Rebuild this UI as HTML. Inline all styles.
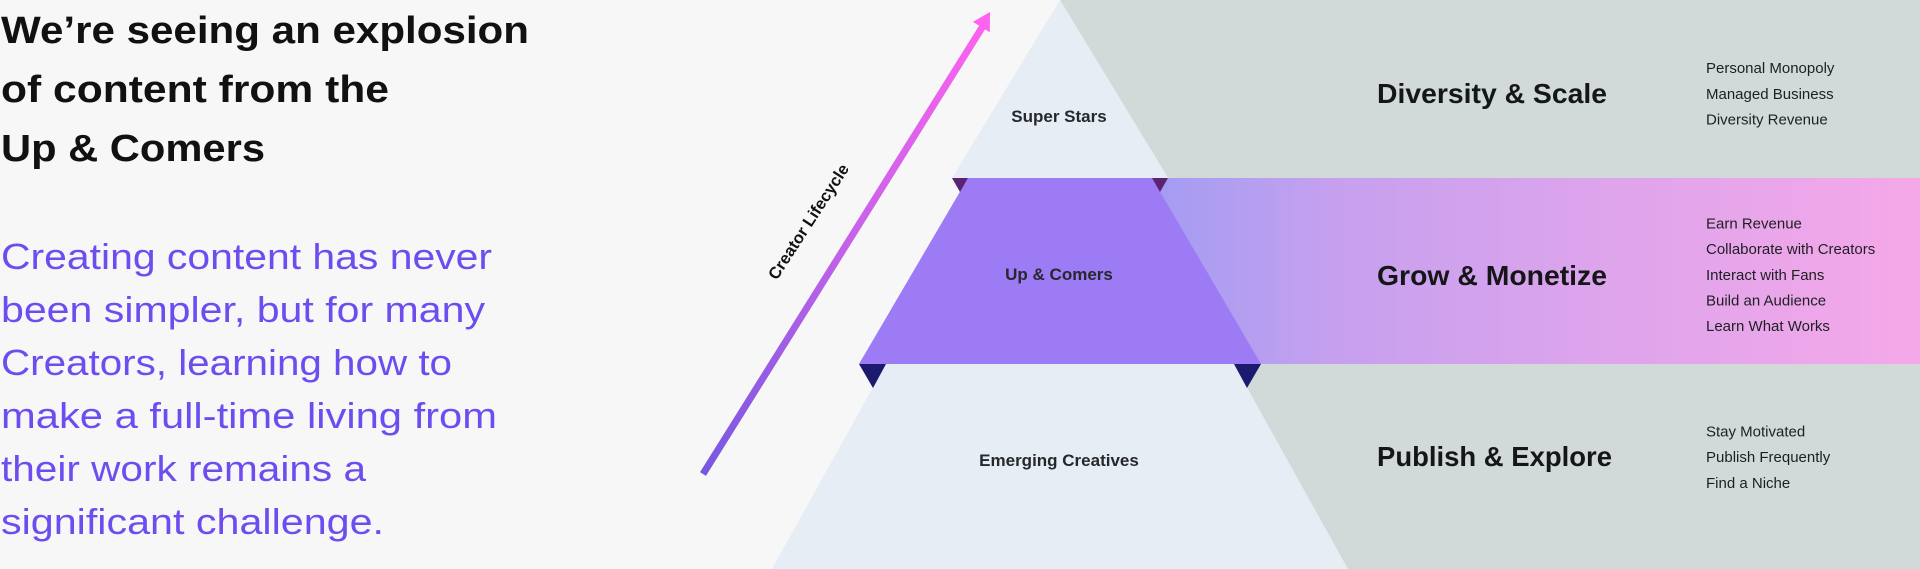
<!DOCTYPE html>
<html>
<head>
<meta charset="utf-8">
<style>
  html, body { margin:0; padding:0; background:#f7f7f7; }
  body { width:1920px; height:569px; overflow:hidden; }
  svg { display:block; }
  .h { font-family:"Liberation Sans", Arial, sans-serif; font-weight:700; fill:#111; }
  .b { font-family:"Liberation Sans", Arial, sans-serif; font-weight:400; fill:#6d4def; }
  .lbl { font-family:"Liberation Sans", Arial, sans-serif; font-weight:700; fill:#26282b; font-size:17px; }
  .rh { font-family:"Liberation Sans", Arial, sans-serif; font-weight:700; fill:#151618; font-size:28px; }
  .li { font-family:"Liberation Sans", Arial, sans-serif; font-weight:400; fill:#1e1f22; font-size:15px; }
</style>
</head>
<body>
<svg width="1920" height="569" viewBox="0 0 1920 569" xmlns="http://www.w3.org/2000/svg">
  <defs>
    <linearGradient id="band" x1="1140" y1="0" x2="1920" y2="0" gradientUnits="userSpaceOnUse">
      <stop offset="0" stop-color="#a09cf2"/>
      <stop offset="0.25" stop-color="#c6a0ef"/>
      <stop offset="0.6" stop-color="#dea4ec"/>
      <stop offset="1" stop-color="#f5a8e8"/>
    </linearGradient>
    <linearGradient id="arr" x1="703" y1="474" x2="990" y2="13" gradientUnits="userSpaceOnUse">
      <stop offset="0" stop-color="#7757e0"/>
      <stop offset="0.5" stop-color="#c462e9"/>
      <stop offset="1" stop-color="#ff62ef"/>
    </linearGradient>
  </defs>

  <rect x="0" y="0" width="1920" height="569" fill="#f7f7f7"/>

  <!-- Top band -->
  <polygon points="1060,0 1920,0 1920,178 1168,178" fill="#d1dad9"/>
  <polygon points="1060,0 952,178 1168,178" fill="#e6edf5"/>

  <!-- Middle band -->
  <rect x="1140" y="178" width="780" height="186" fill="url(#band)"/>
  <polygon points="968,178 1152,178 1261,364 859,364" fill="#9d7bf5"/>
  <polygon points="952,178 968,178 960,192" fill="#5b2373"/>
  <polygon points="1152,178 1168,178 1160,192" fill="#5b2373"/>

  <!-- Bottom band -->
  <rect x="1200" y="364" width="720" height="205" fill="#d1dad9"/>
  <polygon points="886,364 1234,364 1348,569 772,569" fill="#e6edf5"/>
  <polygon points="859,364 886,364 873,388" fill="#1c1a6e"/>
  <polygon points="1234,364 1261,364 1247,388" fill="#1c1a6e"/>

  <!-- Arrow -->
  <line x1="703" y1="474" x2="983" y2="26" stroke="url(#arr)" stroke-width="7"/>
  <polygon points="990,12 972.9,21.9 989.8,32.3" fill="#ff62ee"/>
  <text x="809" y="222" class="h" font-size="16.5" text-anchor="middle" dominant-baseline="central" transform="rotate(-57 809 222)" fill="#111">Creator Lifecycle</text>

  <!-- Pyramid labels -->
  <text x="1059" y="122" class="lbl" text-anchor="middle">Super Stars</text>
  <text x="1059" y="280" class="lbl" text-anchor="middle">Up &amp; Comers</text>
  <text x="1059" y="466" class="lbl" text-anchor="middle">Emerging Creatives</text>

  <!-- Left heading -->
  <text x="1" y="43" class="h" font-size="38" textLength="528" lengthAdjust="spacingAndGlyphs">We’re seeing an explosion</text>
  <text x="1" y="102" class="h" font-size="38" textLength="388" lengthAdjust="spacingAndGlyphs">of content from the</text>
  <text x="1" y="161" class="h" font-size="38" textLength="264" lengthAdjust="spacingAndGlyphs">Up &amp; Comers</text>

  <!-- Left body -->
  <text x="1" y="269" class="b" font-size="36" textLength="491" lengthAdjust="spacingAndGlyphs">Creating content has never</text>
  <text x="1" y="322" class="b" font-size="36" textLength="484" lengthAdjust="spacingAndGlyphs">been simpler, but for many</text>
  <text x="1" y="375" class="b" font-size="36" textLength="451" lengthAdjust="spacingAndGlyphs">Creators, learning how to</text>
  <text x="1" y="428" class="b" font-size="36" textLength="496" lengthAdjust="spacingAndGlyphs">make a full-time living from</text>
  <text x="1" y="481" class="b" font-size="36" textLength="365" lengthAdjust="spacingAndGlyphs">their work remains a</text>
  <text x="1" y="534" class="b" font-size="36" textLength="383" lengthAdjust="spacingAndGlyphs">significant challenge.</text>

  <!-- Right headings -->
  <text x="1377" y="103" class="rh" textLength="230" lengthAdjust="spacingAndGlyphs">Diversity &amp; Scale</text>
  <text x="1377" y="285" class="rh" textLength="230" lengthAdjust="spacingAndGlyphs">Grow &amp; Monetize</text>
  <text x="1377" y="466" class="rh" textLength="235" lengthAdjust="spacingAndGlyphs">Publish &amp; Explore</text>

  <!-- Right lists -->
  <text x="1706" y="73" class="li">Personal Monopoly</text>
  <text x="1706" y="99" class="li">Managed Business</text>
  <text x="1706" y="124.5" class="li">Diversity Revenue</text>

  <text x="1706" y="228.5" class="li">Earn Revenue</text>
  <text x="1706" y="254" class="li">Collaborate with Creators</text>
  <text x="1706" y="280" class="li">Interact with Fans</text>
  <text x="1706" y="305.5" class="li">Build an Audience</text>
  <text x="1706" y="331" class="li">Learn What Works</text>

  <text x="1706" y="436.5" class="li">Stay Motivated</text>
  <text x="1706" y="462" class="li">Publish Frequently</text>
  <text x="1706" y="488" class="li">Find a Niche</text>
</svg>
</body>
</html>
